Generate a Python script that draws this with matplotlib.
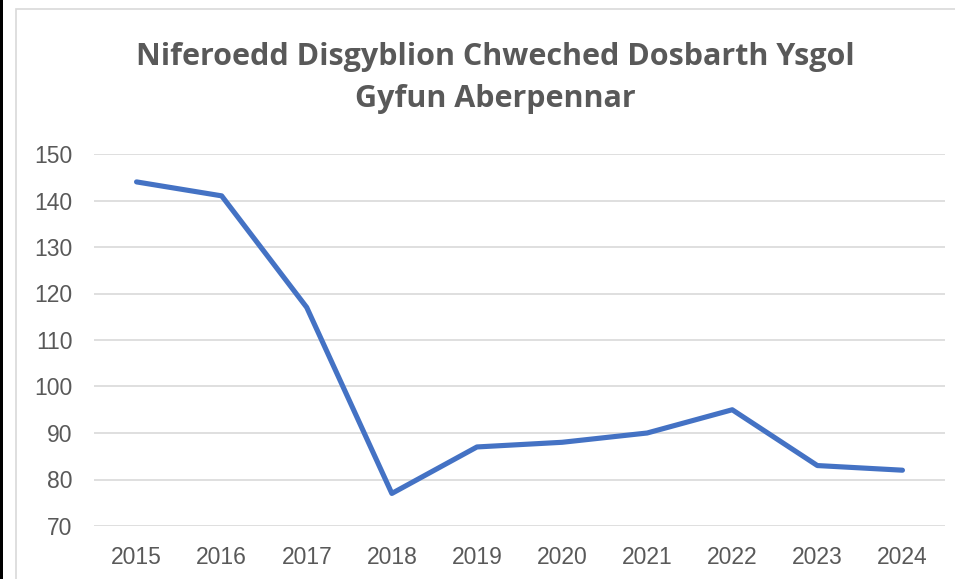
import matplotlib.pyplot as plt
from matplotlib.patches import Rectangle

# Data
years = ["2015", "2016", "2017", "2018", "2019", "2020", "2021", "2022", "2023", "2024"]
pupils = [144, 141, 117, 77, 87, 88, 90, 95, 83, 82]
y_ticks = [70, 80, 90, 100, 110, 120, 130, 140, 150]

title = "Niferoedd Disgyblion Chweched Dosbarth Ysgol\nGyfun Aberpennar"

W, H = 955, 579
fig = plt.figure(figsize=(W / 100, H / 100), dpi=100)

# black strip on the left and light grey chart frame
fig.patches.append(Rectangle((0, 0), 3 / W, 1, transform=fig.transFigure,
                             facecolor="black", edgecolor="none"))
fig.patches.append(Rectangle((15.5 / W, -0.1), 1.2, 1 - 8.5 / H + 0.1,
                             transform=fig.transFigure, facecolor="none",
                             edgecolor="#d9d9d9", linewidth=1.2))

ax = fig.add_axes([94 / W, 1 - 526 / H, 851 / W, 372 / H])

x = range(len(years))
ax.plot(x, pupils, color="#4472C4", linewidth=3.7, solid_capstyle="round",
        solid_joinstyle="round")

ax.set_xlim(-0.5, len(years) - 0.5)
ax.set_ylim(70, 150)
ax.set_yticks(y_ticks)
ax.set_xticks(list(x))
ax.set_xticklabels(years)

ax.grid(axis="y", color="#d9d9d9", linewidth=1.2)
ax.set_axisbelow(True)
for s in ax.spines.values():
    s.set_visible(False)
ax.tick_params(length=0, labelsize=16.5, labelcolor="#595959")
ax.tick_params(axis="y", pad=15.5)
ax.tick_params(axis="x", pad=14.5)
for lab in ax.get_xticklabels() + ax.get_yticklabels():
    lab.set_family("Liberation Sans")

fig.text(495 / W, 1 - 78 / H, title, ha="center", va="center",
         fontsize=22, fontweight="bold", color="#595959",
         family="Open Sans", linespacing=1.55)

plt.savefig("out.png", dpi=100)
